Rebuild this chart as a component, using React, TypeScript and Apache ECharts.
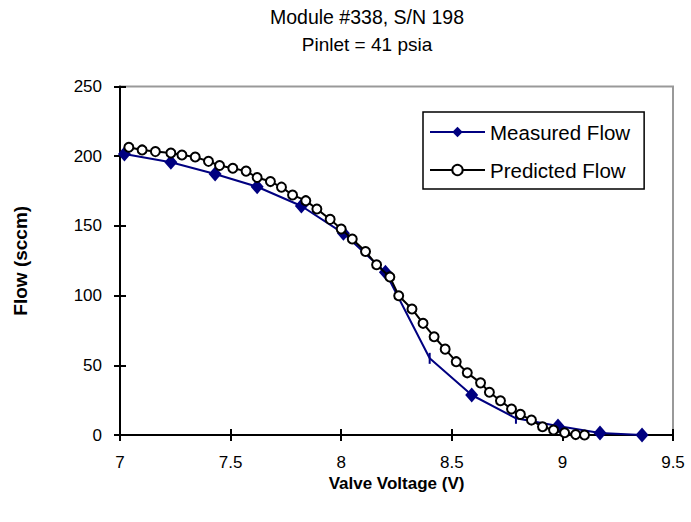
import React, { useEffect, useRef } from "react";
import * as echarts from "echarts";

const FONT = "'Liberation Sans', Arial, Helvetica, sans-serif";

const titleLines = ["Module #338, S/N 198", "Pinlet = 41 psia"];
const xAxisName = "Valve Voltage (V)";
const yAxisName = "Flow (sccm)";
const seriesNames = ["Measured Flow", "Predicted Flow"];

const xMin = 7;
const xMax = 9.5;
const xStep = 0.5;
const yMin = 0;
const yMax = 250;
const yStep = 50;

const measuredX = [7.02, 7.23, 7.43, 7.62, 7.82, 8.01, 8.2, 8.4, 8.59, 8.79, 8.98, 9.17, 9.36];
const measuredY = [201.6, 195.6, 187.2, 178.1, 164.3, 144.7, 116.7, 55.0, 28.7, 12.0, 6.5, 1.5, 0];
// points drawn as a thin tick instead of a diamond in the reference
const measuredTickPoints = [7, 9];

const predictedX = [
  7.04, 7.1, 7.16, 7.23, 7.28, 7.34, 7.4, 7.45, 7.51, 7.57,
  7.62, 7.68, 7.73, 7.78, 7.84, 7.89, 7.95, 8.0, 8.05, 8.11,
  8.16, 8.22, 8.26, 8.32, 8.37, 8.42, 8.47, 8.52, 8.57, 8.63,
  8.67, 8.72, 8.77, 8.81, 8.86, 8.91, 8.96, 9.01, 9.06, 9.1,
];
const predictedY = [
  206.4, 204.5, 203.3, 202.3, 200.9, 199.4, 196.3, 193.3, 191.4, 189.3,
  184.7, 181.8, 177.8, 172.2, 168.1, 162.1, 154.7, 147.8, 140.6, 131.6,
  122.1, 113.4, 99.9, 90.4, 80.1, 70.5, 61.6, 52.6, 44.6, 37.4,
  30.7, 24.6, 18.6, 14.8, 10.7, 5.9, 3.6, 1.6, 0.3, 0,
];

export default function App() {
  const ref = useRef<HTMLDivElement>(null);

  useEffect(() => {
    if (!ref.current) return;
    const chart = echarts.init(ref.current, null, { renderer: "svg" });

    const tickStyle = { color: "#000", width: 2 };
    const labelStyle = { color: "#000", fontFamily: FONT, fontSize: 17 };

    const makeX = (main: boolean) => ({
      type: "value",
      min: xMin,
      max: xMax,
      interval: xStep,
      position: "bottom",
      name: main ? xAxisName : "",
      nameLocation: "middle",
      nameGap: 40,
      nameMoveOverlap: false,
      nameTextStyle: { color: "#000", fontFamily: FONT, fontSize: 17, fontWeight: "bold" },
      axisLine: { show: main, onZero: false, lineStyle: { color: "#000", width: 2 } },
      axisTick: { show: true, inside: !main, length: 6, lineStyle: tickStyle },
      axisLabel: { show: main, margin: 19, ...labelStyle },
      splitLine: { show: false },
    });
    const makeY = (main: boolean) => ({
      type: "value",
      min: yMin,
      max: yMax,
      interval: yStep,
      position: "left",
      name: main ? yAxisName : "",
      nameLocation: "middle",
      nameRotate: 90,
      nameGap: 90,
      nameMoveOverlap: false,
      nameTextStyle: { color: "#000", fontFamily: FONT, fontSize: 19, fontWeight: "bold" },
      axisLine: { show: main, onZero: false, lineStyle: { color: "#000", width: 2 } },
      axisTick: { show: true, inside: !main, length: 6, lineStyle: tickStyle },
      axisLabel: { show: main, margin: 18, ...labelStyle },
      splitLine: { show: false },
    });

    const measuredData = measuredX.map((x, i) =>
      measuredTickPoints.includes(i)
        ? { value: [x, measuredY[i]], symbol: "rect", symbolSize: [2, 11] }
        : [x, measuredY[i]]
    );
    const predictedData = predictedX.map((x, i) => [x, predictedY[i]]);

    chart.setOption({
      animation: false,
      backgroundColor: "#fff",
      textStyle: { fontFamily: FONT },
      grid: {
        left: 120,
        right: 18,
        top: 86.5,
        bottom: 87,
        show: true,
        borderColor: "#999",
        borderWidth: 2,
        backgroundColor: "transparent",
      },
      graphic: [
        {
          type: "text",
          x: 367,
          y: 17,
          style: {
            text: titleLines[0],
            fill: "#000",
            font: `19.5px ${FONT}`,
            textAlign: "center",
            textVerticalAlign: "middle",
          },
        },
        {
          type: "text",
          x: 367,
          y: 44,
          style: {
            text: titleLines[1],
            fill: "#000",
            font: `19px ${FONT}`,
            textAlign: "center",
            textVerticalAlign: "middle",
          },
        },
      ],
      legend: {
        orient: "vertical",
        left: 423,
        top: 112,
        padding: [9, 14, 8, 6],
        borderColor: "#000",
        borderWidth: 1.5,
        backgroundColor: "#fff",
        itemWidth: 55,
        itemHeight: 13,
        itemGap: 16,
        textStyle: { color: "#000", fontFamily: FONT, fontSize: 20.5, lineHeight: 22 },
        data: seriesNames,
      },
      xAxis: [makeX(true), makeX(false)],
      yAxis: [makeY(true), makeY(false)],
      series: [
        {
          name: seriesNames[0],
          type: "line",
          xAxisIndex: 0,
          yAxisIndex: 0,
          data: measuredData,
          symbol: "diamond",
          symbolSize: [13, 15],
          lineStyle: { color: "#000080", width: 2 },
          itemStyle: { color: "#000080" },
          clip: false,
          z: 2,
        },
        {
          name: seriesNames[1],
          type: "line",
          xAxisIndex: 0,
          yAxisIndex: 0,
          data: predictedData,
          symbol: "circle",
          symbolSize: 9,
          showAllSymbol: true,
          lineStyle: { color: "#000", width: 2 },
          itemStyle: { color: "#fff", borderColor: "#000", borderWidth: 2 },
          clip: false,
          z: 3,
        },
      ],
    });

    return () => chart.dispose();
  }, []);

  return (
    <div
      ref={ref}
      style={{ position: "fixed", left: 0, top: 0, width: 691, height: 522 }}
    />
  );
}
